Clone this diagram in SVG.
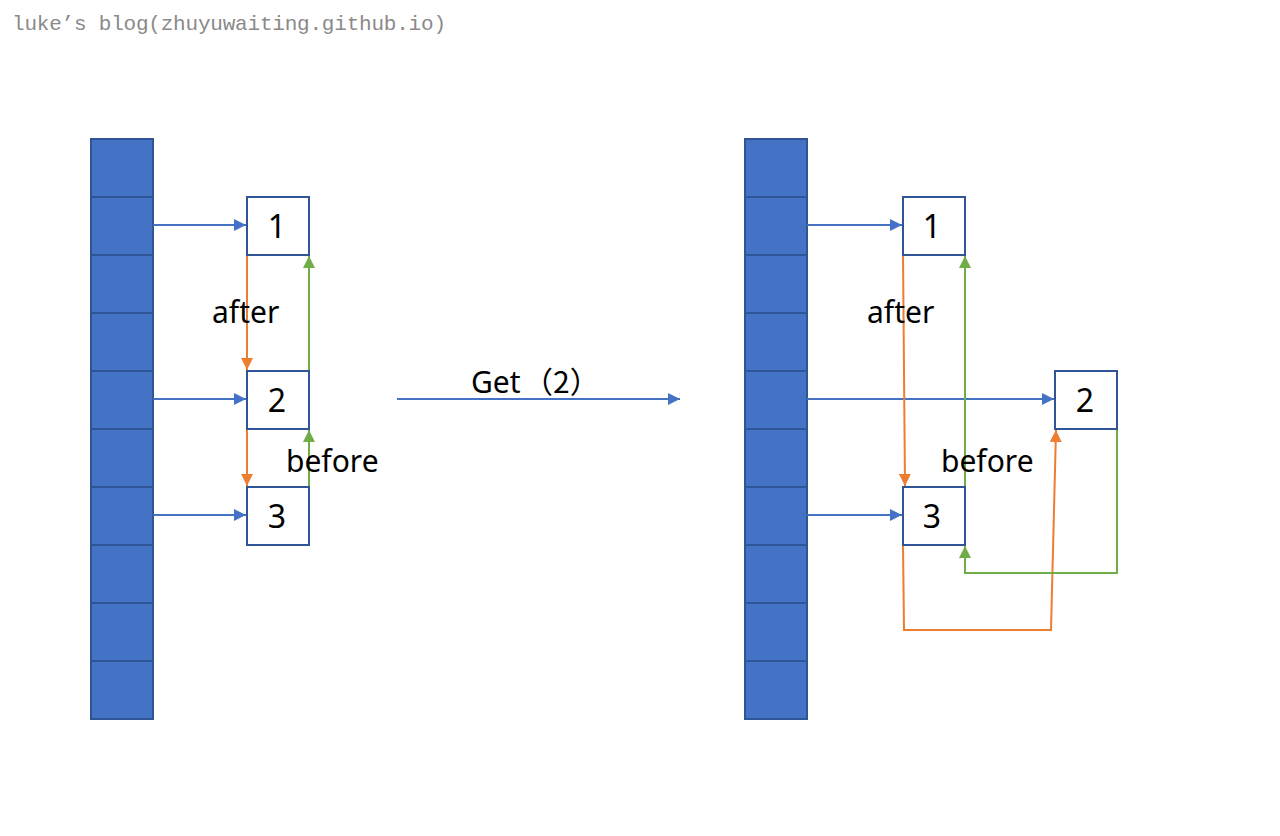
<svg xmlns="http://www.w3.org/2000/svg" width="1280" height="836" viewBox="0 0 1280 836">
<style>
.cell{fill:#4472C4;stroke:#2F5597;stroke-width:2}
.box{fill:#ffffff;stroke:#2F5597;stroke-width:2}
.lbl{font-family:"Noto Sans","Noto Sans CJK SC",sans-serif;font-size:30px;fill:#000}
.cjk{font-family:"Noto Sans CJK SC",sans-serif;font-size:30px;fill:#000}
.num{font-family:"Noto Sans","Noto Sans CJK SC",sans-serif;font-size:32px;fill:#000;text-anchor:middle}
.blue{stroke:#4472C4;stroke-width:2;fill:none;marker-end:url(#ab)}
.orange{stroke:#ED7D31;stroke-width:2;fill:none;marker-end:url(#ao)}
.green{stroke:#70AD47;stroke-width:2;fill:none;marker-end:url(#ag)}
.wm{font-family:"Liberation Mono",monospace;font-size:21px;fill:#8a8a8a}
</style>
<defs>
<marker id="ab" viewBox="0 0 10 10" refX="10" refY="5" markerWidth="6" markerHeight="6" orient="auto" markerUnits="strokeWidth"><path d="M0,0 L10,5 L0,10 z" fill="#4472C4"/></marker>
<marker id="ao" viewBox="0 0 10 10" refX="10" refY="5" markerWidth="6" markerHeight="6" orient="auto" markerUnits="strokeWidth"><path d="M0,0 L10,5 L0,10 z" fill="#ED7D31"/></marker>
<marker id="ag" viewBox="0 0 10 10" refX="10" refY="5" markerWidth="6" markerHeight="6" orient="auto" markerUnits="strokeWidth"><path d="M0,0 L10,5 L0,10 z" fill="#70AD47"/></marker>
</defs>
<rect width="1280" height="836" fill="#ffffff"/>
<text class="wm" x="12" y="30" textLength="434">luke’s blog(zhuyuwaiting.github.io)</text>

<g id="array-left">
<rect class="cell" x="91" y="139" width="62" height="58"/>
<rect class="cell" x="91" y="197" width="62" height="58"/>
<rect class="cell" x="91" y="255" width="62" height="58"/>
<rect class="cell" x="91" y="313" width="62" height="58"/>
<rect class="cell" x="91" y="371" width="62" height="58"/>
<rect class="cell" x="91" y="429" width="62" height="58"/>
<rect class="cell" x="91" y="487" width="62" height="58"/>
<rect class="cell" x="91" y="545" width="62" height="58"/>
<rect class="cell" x="91" y="603" width="62" height="58"/>
<rect class="cell" x="91" y="661" width="62" height="58"/>
</g>
<g id="array-right">
<rect class="cell" x="745" y="139" width="62" height="58"/>
<rect class="cell" x="745" y="197" width="62" height="58"/>
<rect class="cell" x="745" y="255" width="62" height="58"/>
<rect class="cell" x="745" y="313" width="62" height="58"/>
<rect class="cell" x="745" y="371" width="62" height="58"/>
<rect class="cell" x="745" y="429" width="62" height="58"/>
<rect class="cell" x="745" y="487" width="62" height="58"/>
<rect class="cell" x="745" y="545" width="62" height="58"/>
<rect class="cell" x="745" y="603" width="62" height="58"/>
<rect class="cell" x="745" y="661" width="62" height="58"/>
</g>

<g id="connectors">
<line class="blue" x1="153" y1="225" x2="246" y2="225"/>
<line class="blue" x1="153" y1="399" x2="246" y2="399"/>
<line class="blue" x1="153" y1="515" x2="246" y2="515"/>
<line class="orange" x1="247" y1="255" x2="247" y2="370"/>
<line class="orange" x1="247" y1="429" x2="247" y2="486"/>
<line class="green" x1="309" y1="371" x2="309" y2="256"/>
<line class="green" x1="309" y1="487" x2="309" y2="430"/>
<line class="blue" x1="397" y1="399" x2="680" y2="399"/>
<line class="blue" x1="807" y1="225" x2="902" y2="225"/>
<line class="blue" x1="807" y1="399" x2="1054" y2="399"/>
<line class="blue" x1="807" y1="515" x2="902" y2="515"/>
<line class="orange" x1="903" y1="255" x2="905" y2="486"/>
<polyline class="orange" points="903,545 904,630 1051,630 1056,430"/>
<line class="green" x1="965" y1="487" x2="965" y2="256"/>
<polyline class="green" points="1117,429 1117,573 965,573 965,546"/>
</g>

<g id="node-1-left"><rect class="box" x="247" y="197" width="62" height="58"/><text class="num" x="277" y="238">1</text></g>
<g id="node-2-left"><rect class="box" x="247" y="371" width="62" height="58"/><text class="num" x="277" y="412">2</text></g>
<g id="node-3-left"><rect class="box" x="247" y="487" width="62" height="58"/><text class="num" x="277" y="528">3</text></g>
<g id="node-1-right"><rect class="box" x="903" y="197" width="62" height="58"/><text class="num" x="932" y="238">1</text></g>
<g id="node-2-right"><rect class="box" x="1055" y="371" width="62" height="58"/><text class="num" x="1085" y="412">2</text></g>
<g id="node-3-right"><rect class="box" x="903" y="487" width="62" height="58"/><text class="num" x="932" y="528">3</text></g>

<g id="labels">
<text class="lbl" x="212" y="323">after</text>
<text class="lbl" x="286" y="472">before</text>
<text class="lbl" x="471" y="393">Get<tspan class="cjk" x="523">（2）</tspan></text>
<text class="lbl" x="867" y="323">after</text>
<text class="lbl" x="941" y="472">before</text>
</g>
</svg>
